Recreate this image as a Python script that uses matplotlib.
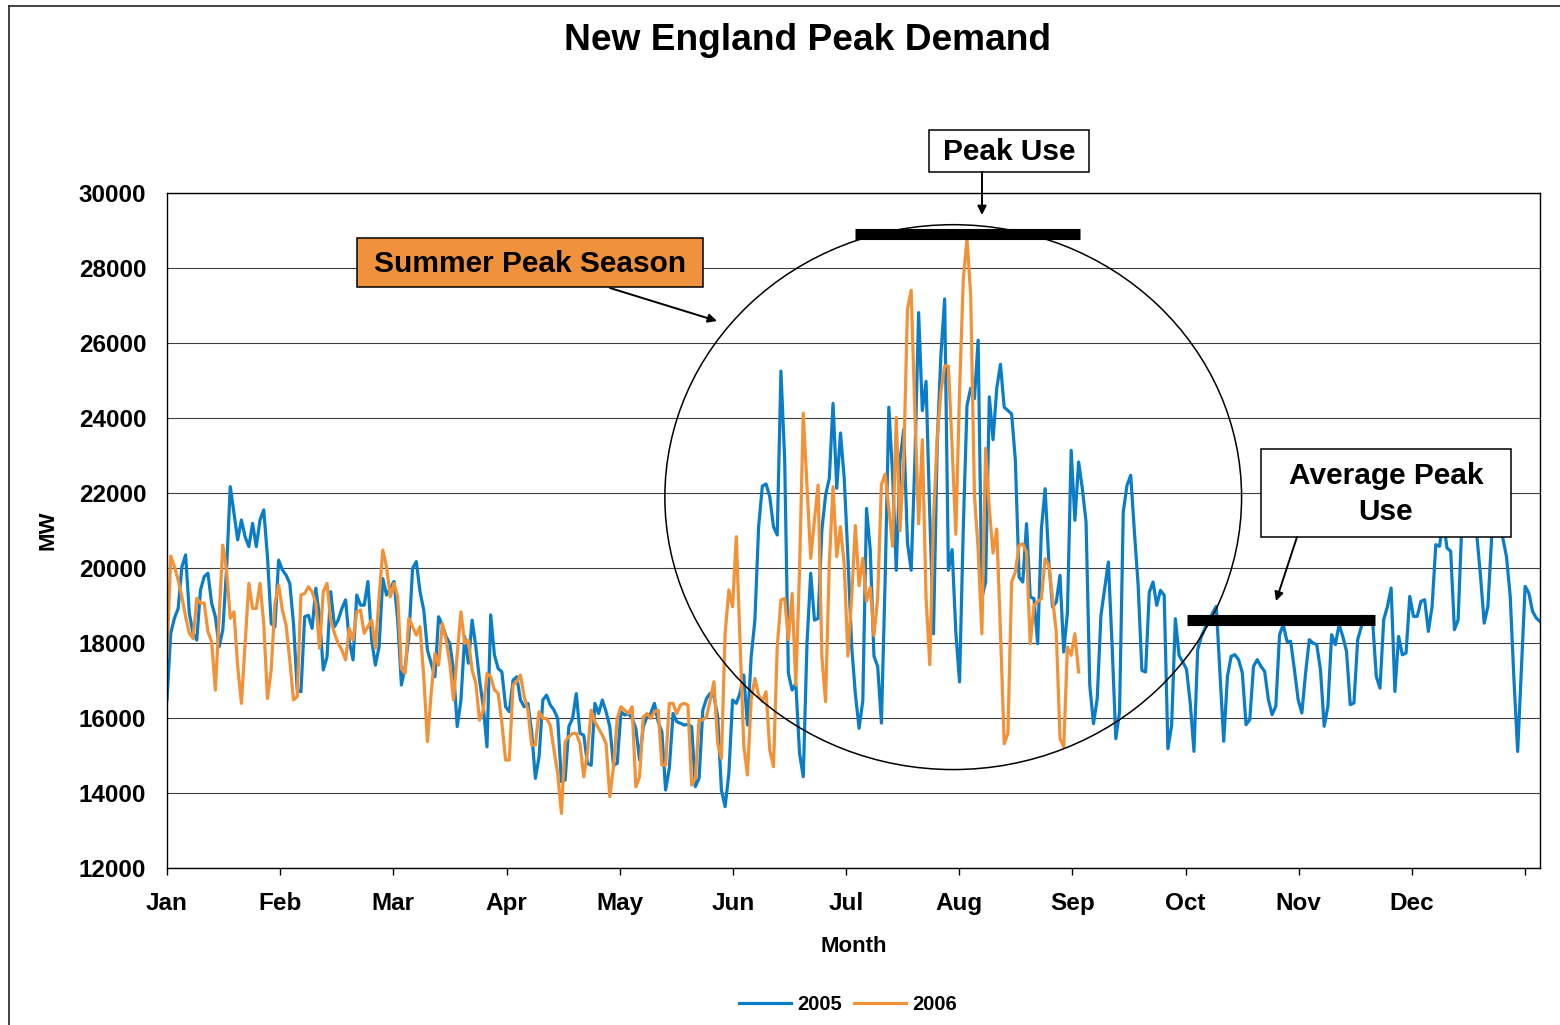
import numpy as np
import matplotlib
matplotlib.use("Agg")
import matplotlib.pyplot as plt
from matplotlib.patches import Ellipse, Rectangle, FancyArrowPatch
from matplotlib.lines import Line2D

plt.rcParams['font.family'] = ['Liberation Sans', 'DejaVu Sans']
plt.rcParams['font.weight'] = 'bold'

# Daily peak demand (MW), indexed by day of year
demand_2005 = [
    16480, 18260, 18660, 18920, 20030, 20350, 18790, 18260, 18080, 19410,
    19770, 19860, 19060, 18700, 17900, 18350, 19950, 22170, 21460, 20750,
    21280, 20830, 20570, 21190, 20570, 21280, 21550, 20300, 18520, 18430,
    20210, 19950, 19810, 19590, 18520, 16740, 16700, 18700, 18740, 18390,
    19460, 18700, 17280, 17630,
    19370, 18435, 18610, 18920, 19150, 18035, 17550, 19280, 19010, 19010,
    19640, 18080, 17410, 17900, 19720, 19280, 19460, 19640, 18610, 16880,
    17370, 18170, 19990, 20170, 19370, 18880, 17810, 17450, 17100, 18700,
    18480, 18170, 17990, 17280, 15770, 16480, 18170, 17460, 18610, 17900,
    17010, 16300, 15230, 18750, 17680, 17320, 17230, 16300, 16170,
    17010, 17100, 16480, 16300, 16390, 15630, 14390, 14970, 16480, 16610,
    16350, 16210, 15990, 14300, 14345, 15770, 15990, 16650, 15590, 15540,
    14790, 14740, 16390, 16120, 16480, 16170, 15770, 14740, 14790, 16170,
    16080, 16120, 15990, 15720, 14880, 15770, 16030, 16120, 16390, 15900,
    15630, 14080, 14660, 16120, 15900,
    15860, 15810, 15830, 15770, 14170, 14390, 16210, 16520, 16660, 16570,
    16035, 14080, 13635, 14520, 16480, 16390, 16660, 17145, 15810, 17635,
    18610, 21100, 22186, 22240, 21900, 21100, 20880, 25250, 22900, 17190,
    16745, 16920, 15055, 14435, 17990, 19860, 18610, 18655, 21010, 21946,
    22390, 24390, 22124, 23600, 22400, 20300,
    17924, 16642, 15726, 16459, 21588, 20489, 17650, 17375, 15863, 19665,
    24289, 22503, 19939, 22870, 23694, 20672, 19939, 22870, 26809, 24198,
    24976, 21405, 18245, 23328, 25709, 27176, 19939, 20489, 18290, 16962,
    21038, 24336, 24793, 24518, 26076, 19207, 19619, 24564, 23420, 24793,
    25434, 24289, 24200, 24107, 22870, 19756,
    19626, 21182, 19226, 19182, 17981, 21048, 22115, 20160, 18959, 19093,
    19804, 17759, 18826, 23138, 21271, 22827, 22115, 21226, 16870, 15848,
    16515, 18737, 19448, 20160, 17937, 15448, 16159, 21493, 22204, 22471,
    20960, 19537, 17270, 17226, 19359, 19626, 19004, 19404, 19271, 15181,
    15804, 18648, 17670, 17493, 17300,
    16400, 15111, 17822, 18177, 18400, 18577, 18800, 18977, 17200, 15378,
    17111, 17644, 17689, 17555, 17200, 15822, 15955, 17377, 17555, 17377,
    17244, 16489, 16089, 16311, 18222, 18489, 18044, 18044, 17289, 16489,
    16133, 17200, 18089, 18000, 17955, 17289, 15778, 16311, 18222, 17955,
    18489, 18177, 17777, 16355, 16400,
    18087, 18442, 18710, 18650, 18620, 17108, 16796, 18620, 18976, 19466,
    16707, 18176, 17686, 17731, 19243, 18710, 18710, 19110, 19154, 18309,
    18976, 20623, 20579, 21300, 20534, 20445, 18354, 18620, 21200, 21600,
    21900, 21500, 20900, 19800, 18531, 18976, 20800, 21500, 21300, 20800,
    20300, 19243, 17019, 15106, 17286, 19510, 19332, 18843, 18665, 18576,
]

demand_2006 = [
    17630, 20320, 20040, 19680, 19230, 18700, 18260, 18120, 19190, 19060,
    19070, 18300, 18030, 16740, 18700, 20610, 19950, 18660, 18830, 17370,
    16390, 17990, 19590, 18920, 18920, 19590, 18520, 16520, 17280, 19060,
    19550, 18880, 18480, 17540, 16480, 16570, 19280, 19320, 19500, 19370,
    19060, 17860, 19370, 19590,
    18610, 18260, 17990, 17810, 17550, 18390, 18080, 18830, 18880, 18260,
    18435, 18610, 17860, 19230, 20480, 20035, 19230, 19590, 19230, 17320,
    17190, 18660, 18435, 18210, 18435, 17100, 15370, 16660, 17720, 17410,
    18520, 18080, 17460, 16480, 17720, 18830, 17990, 18080, 17280, 16920,
    15940, 16210, 17190, 17100, 16750, 16660, 15860, 14880, 14880,
    16880, 16970, 17145, 16570, 16210, 15280, 15280, 16170, 15990, 15990,
    15810, 15145, 14520, 13455, 15365, 15500, 15590, 15590, 15320, 14430,
    15055, 16210, 15900, 15720, 15545, 15320, 13900, 14700, 15990, 16300,
    16210, 16120, 16300, 14165, 14430, 16030, 16120, 15990, 16170, 16210,
    14745, 14745, 16390, 16390, 16120,
    16345, 16390, 16345, 14212, 14390, 15945, 15945, 16035, 16480, 16970,
    15323, 14923, 18257, 19413, 18968, 20835, 18079, 15278, 14479, 16480,
    17057, 16612, 16435, 16701, 15145, 14701, 17901, 19146, 19190, 18079,
    19324, 16879, 19946, 24124, 22168, 20257, 21279, 22213, 17634, 16435,
    20124, 22168, 20301, 21101, 20100, 17650,
    19207, 21130, 19527, 20260, 19115, 19482, 18199, 19207, 22229, 22503,
    21588, 20581, 24015, 20993, 22870, 26901, 27405, 24152, 21176, 23420,
    19207, 17421, 21313, 23466, 24702, 25389, 25389, 23237, 20901, 24702,
    27680, 28779, 27268, 21955, 20489, 18245, 23191, 21588, 20398, 21038,
    18290, 15313, 15588,
    19626, 19893, 20604, 20648, 20426, 17981, 19004, 19100, 19182, 20248,
    20071, 19182, 18293, 15448, 15226, 17893, 17670, 18248, 17226,
]

months = ['Jan', 'Feb', 'Mar', 'Apr', 'May', 'Jun',
          'Jul', 'Aug', 'Sep', 'Oct', 'Nov', 'Dec', '']

# annotation levels (MW) and the day ranges the markers cover
peak_use = 28900
average_use = 18610
peak_span = (185, 245.4)
average_span = (274.2, 324.7)

W, H = 1560, 1025


def px(x, y):
    # pixel position -> figure fraction
    return x / W, 1 - y / H


fig = plt.figure(figsize=(W / 100, H / 100), dpi=100)
ax = fig.add_axes([167 / W, 1 - 868 / H, 1373 / W, 675 / H])

ax.plot(np.arange(len(demand_2005)), demand_2005, color='#0A7DC8', lw=2.3, label='2005', zorder=2)
ax.plot(np.arange(len(demand_2006)), demand_2006, color='#F39137', lw=2.3, label='2006', zorder=2)

ax.set_xlim(0, 369)
ax.set_ylim(12000, 30000)
ax.set_yticks(range(12000, 30001, 2000))
# month ticks evenly spaced across the year
ax.set_xticks(np.arange(13) * 365 / 12)
ax.set_xticklabels(months)
ax.grid(axis='y', color='#404040', lw=0.8)
ax.set_axisbelow(True)
ax.tick_params(axis='x', direction='out', length=5, width=1, pad=12, labelsize=17.5)
ax.tick_params(axis='y', length=0, pad=15, labelsize=17.5)
for s in ax.spines.values():
    s.set_linewidth(1)
    s.set_color('black')

ax.set_xlabel('Month', fontsize=16, fontweight='bold')
ax.xaxis.set_label_coords(0.5, -0.101)
ax.set_ylabel('MW', fontsize=16, fontweight='bold')
ax.yaxis.set_label_coords(-0.079, 0.5)

# summer season ring
ax.add_patch(Ellipse((211.3, 21890), width=155, height=14530, fill=False,
                     ec='black', lw=1.1, zorder=3))

# peak / average markers
ax.plot(peak_span, [peak_use, peak_use], color='black', lw=8, solid_capstyle='butt', zorder=4)
ax.plot(average_span, [average_use, average_use], color='black', lw=8, solid_capstyle='butt', zorder=4)

fig.text(*px(807, 40), 'New England Peak Demand', ha='center', va='center',
         fontsize=26.7, fontweight='bold')


def label_box(x0, y0, x1, y1, text, face):
    fig.add_artist(Rectangle(px(x0, y1), (x1 - x0) / W, (y1 - y0) / H,
                             transform=fig.transFigure, facecolor=face,
                             edgecolor='black', lw=1.1, zorder=5))
    fig.text(*px((x0 + x1) / 2, (y0 + y1) / 2 + 1), text, ha='center', va='center',
             fontsize=21.5, fontweight='bold', linespacing=1.4, zorder=6)


def arrow(p0, p1):
    fig.add_artist(FancyArrowPatch(px(*p0), px(*p1), transform=fig.transFigure,
                                   arrowstyle='-|>', mutation_scale=13, lw=1.4,
                                   color='black', shrinkA=0, shrinkB=0, zorder=6))


label_box(929, 130, 1089, 172, 'Peak Use', 'white')
label_box(357, 238, 703, 287, 'Summer Peak Season', '#F0923B')
label_box(1261, 449, 1511, 537, 'Average Peak\nUse', 'white')

arrow((982, 172), (982, 215))
arrow((610, 288), (717, 321))
arrow((1297, 537), (1276, 601))

# chart frame
fig.add_artist(Line2D([9 / W, 1], [1 - 6 / H] * 2, transform=fig.transFigure, color='#333333', lw=1.3))
fig.add_artist(Line2D([9 / W] * 2, [0, 1 - 6 / H], transform=fig.transFigure, color='#333333', lw=1.3))

fig.legend(loc='center', bbox_to_anchor=px(848, 1005), ncol=2, frameon=False,
           fontsize=14.5, handlelength=2.6, handletextpad=0.3, columnspacing=0.6)

fig.savefig('out.png', dpi=100)
